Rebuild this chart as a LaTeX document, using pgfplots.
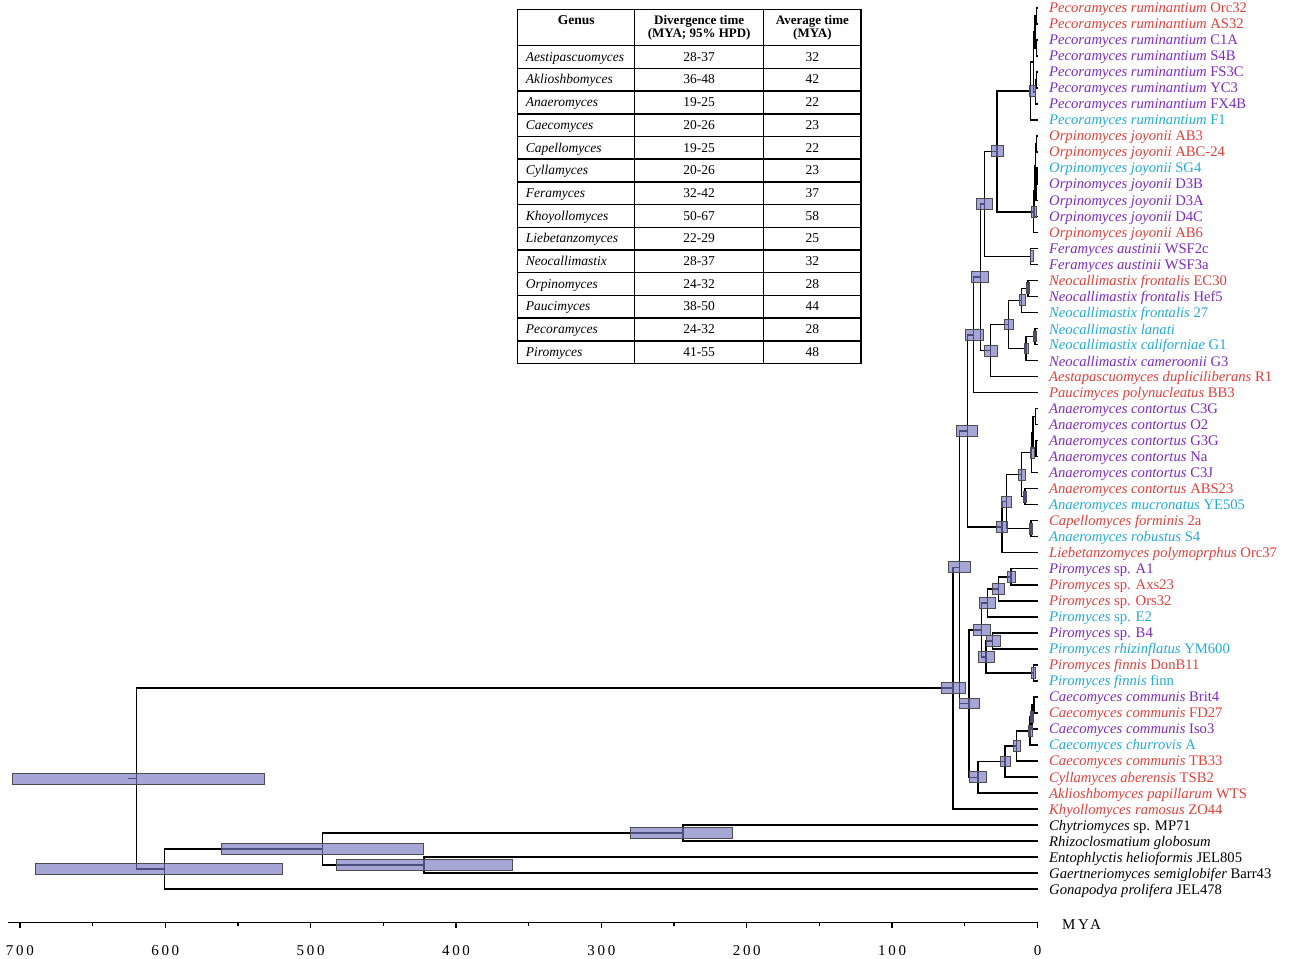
\documentclass[border=0pt]{standalone}
\usepackage{fontspec}
\setmainfont{Liberation Serif}
\usepackage{pgfplots}
\pgfplotsset{compat=1.18}
\usepackage{array}
\definecolor{cR}{RGB}{232,60,55}
\definecolor{cP}{RGB}{125,40,200}
\definecolor{cC}{RGB}{32,170,222}
\definecolor{hpdfill}{RGB}{118,118,192}
\tikzset{
  tree/.style={black, line width=1.5pt, line join=miter},
  hpd/.style={fill=hpdfill, fill opacity=0.65, draw=black!70, line width=0.9pt},
  leaf/.style={anchor=west, inner sep=0pt, xshift=11.5pt, yshift=-1.5pt, font=\fontsize{14.65}{16}\selectfont},
}
\newcommand{\trow}[3]{\hspace*{7.5pt}\textit{#1}\rule[-6.4pt]{0pt}{21.2pt} & #2 & #3\\\hline}
\begin{document}
\begin{tikzpicture}
\begin{axis}[
  scale only axis, width=1029.2pt, height=922.5pt,
  xmin=0, xmax=708, x dir=reverse,
  ymin=-57.08, ymax=0.5,
  axis x line=bottom, axis y line=none,
  axis line style={-, line width=1.3pt},
  xtick={0,100,200,300,400,500,600,700},
  minor xtick={50,150,250,350,450,550,650},
  tick align=outside,
  major tick length=6pt, minor tick length=4pt,
  every tick/.style={black, line width=1.3pt},
  /pgf/number format/assume math mode=true,
  xticklabel style={font=\fontsize{15}{15}\selectfont\addfontfeatures{LetterSpace=18}, yshift=-13pt},
  clip=false,
]
% ---------------- tree branches ----------------
% Pecoramyces
\addplot[tree] coordinates {(0,0) (0.6,0) (0.6,-1) (0,-1)};
\addplot[tree] coordinates {(0,-2) (0.8,-2) (0.8,-3) (0,-3)};
\addplot[tree] coordinates {(0.6,-0.5) (1.8,-0.5) (1.8,-2.5) (0.8,-2.5)};
\addplot[tree] coordinates {(0,-4) (0.7,-4) (0.7,-5) (0,-5)};
\addplot[tree] coordinates {(0.7,-4.5) (1.5,-4.5) (1.5,-6) (0,-6)};
\addplot[tree] coordinates {(1.8,-1.5) (2.8,-1.5) (2.8,-5.25) (1.5,-5.25)};
\addplot[tree] coordinates {(2.8,-3.375) (4.7,-3.375) (4.7,-7) (0,-7)};
% Orpinomyces
\addplot[tree] coordinates {(0,-8) (0.6,-8) (0.6,-9) (0,-9)};
\addplot[tree] coordinates {(0,-10) (0.5,-10) (0.5,-11) (0,-11)};
\addplot[tree] coordinates {(0.5,-10.5) (1.0,-10.5) (1.0,-12) (0,-12)};
\addplot[tree] coordinates {(0.6,-8.5) (1.5,-8.5) (1.5,-11.25) (1.0,-11.25)};
\addplot[tree] coordinates {(1.5,-9.875) (2.2,-9.875) (2.2,-13) (0,-13)};
\addplot[tree] coordinates {(2.2,-11.4375) (2.9,-11.4375) (2.9,-14) (0,-14)};
\addplot[tree] coordinates {(4.7,-5.1875) (27.7,-5.1875) (27.7,-12.719) (2.9,-12.719)};
% Feramyces
\addplot[tree] coordinates {(0,-15) (4.7,-15) (4.7,-16) (0,-16)};
\addplot[tree] coordinates {(27.7,-8.953) (36.3,-8.953) (36.3,-15.5) (4.7,-15.5)};
% Neocallimastix
\addplot[tree] coordinates {(0,-17) (6.7,-17) (6.7,-18) (0,-18)};
\addplot[tree] coordinates {(6.7,-17.5) (10.9,-17.5) (10.9,-19) (0,-19)};
\addplot[tree] coordinates {(0,-20) (1.7,-20) (1.7,-21) (0,-21)};
\addplot[tree] coordinates {(1.7,-20.5) (7.9,-20.5) (7.9,-22) (0,-22)};
\addplot[tree] coordinates {(10.9,-18.25) (20.1,-18.25) (20.1,-21.25) (7.9,-21.25)};
\addplot[tree] coordinates {(20.1,-19.75) (32.2,-19.75) (32.2,-23) (0,-23)};
\addplot[tree] coordinates {(36.3,-12.227) (39.1,-12.227) (39.1,-21.375) (32.2,-21.375)};
\addplot[tree] coordinates {(39.1,-16.801) (44.2,-16.801) (44.2,-24) (0,-24)};
% Anaeromyces group
\addplot[tree] coordinates {(0,-25) (1.5,-25) (1.5,-26) (0,-26)};
\addplot[tree] coordinates {(0,-27) (1.0,-27) (1.0,-28) (0,-28)};
\addplot[tree] coordinates {(1.5,-25.5) (3.0,-25.5) (3.0,-27.5) (1.0,-27.5)};
\addplot[tree] coordinates {(3.0,-26.5) (4.0,-26.5) (4.0,-29) (0,-29)};
\addplot[tree] coordinates {(0,-30) (8.6,-30) (8.6,-31) (0,-31)};
\addplot[tree] coordinates {(4.0,-27.75) (10.9,-27.75) (10.9,-30.5) (8.6,-30.5)};
\addplot[tree] coordinates {(0,-32) (4.5,-32) (4.5,-33) (0,-33)};
\addplot[tree] coordinates {(10.9,-29.125) (21.5,-29.125) (21.5,-32.5) (4.5,-32.5)};
\addplot[tree] coordinates {(21.5,-30.8125) (24.6,-30.8125) (24.6,-34) (0,-34)};
\addplot[tree] coordinates {(44.2,-20.40) (48.3,-20.40) (48.3,-32.406) (24.6,-32.406)};
% Piromyces
\addplot[tree] coordinates {(0,-35) (18.2,-35) (18.2,-36) (0,-36)};
\addplot[tree] coordinates {(18.2,-35.5) (27.0,-35.5) (27.0,-37) (0,-37)};
\addplot[tree] coordinates {(27.0,-36.25) (34.5,-36.25) (34.5,-38) (0,-38)};
\addplot[tree] coordinates {(0,-39) (30.8,-39) (30.8,-40) (0,-40)};
\addplot[tree] coordinates {(0,-41) (2.9,-41) (2.9,-42) (0,-42)};
\addplot[tree] coordinates {(30.8,-39.5) (35.4,-39.5) (35.4,-41.5) (2.9,-41.5)};
\addplot[tree] coordinates {(34.5,-37.125) (38.4,-37.125) (38.4,-40.5) (35.4,-40.5)};
% Caecomyces group
\addplot[tree] coordinates {(0,-43) (2.3,-43) (2.3,-44) (0,-44)};
\addplot[tree] coordinates {(2.3,-43.5) (3.9,-43.5) (3.9,-45) (0,-45)};
\addplot[tree] coordinates {(3.9,-44.25) (5.0,-44.25) (5.0,-46) (0,-46)};
\addplot[tree] coordinates {(5.0,-45.125) (14.3,-45.125) (14.3,-47) (0,-47)};
\addplot[tree] coordinates {(14.3,-46.0625) (22.4,-46.0625) (22.4,-48) (0,-48)};
\addplot[tree] coordinates {(22.4,-47.031) (41.1,-47.031) (41.1,-49) (0,-49)};
\addplot[tree] coordinates {(38.4,-38.8125) (47.1,-38.8125) (47.1,-48.016) (41.1,-48.016)};
\addplot[tree] coordinates {(48.3,-26.403) (53.8,-26.403) (53.8,-43.414) (47.1,-43.414)};
\addplot[tree] coordinates {(53.8,-34.909) (58.0,-34.909) (58.0,-50) (0,-50)};
% outgroups
\addplot[tree] coordinates {(0,-51) (243.7,-51) (243.7,-52) (0,-52)};
\addplot[tree] coordinates {(0,-53) (422,-53) (422,-54) (0,-54)};
\addplot[tree] coordinates {(243.7,-51.5) (491.7,-51.5) (491.7,-53.5) (422,-53.5)};
\addplot[tree] coordinates {(491.7,-52.5) (600.7,-52.5) (600.7,-55) (0,-55)};
\addplot[tree] coordinates {(58.0,-42.454) (619.7,-42.454) (619.7,-53.75) (600.7,-53.75)};
\addplot[tree] coordinates {(619.7,-48.102) (625.5,-48.102)};
% ---------------- 95% HPD bars ----------------
\addplot[hpd] coordinates {(531.5,-47.76) (705.0,-47.76) (705.0,-48.44) (531.5,-48.44)} -- cycle;
\addplot[hpd] coordinates {(519.5,-53.41) (689.2,-53.41) (689.2,-54.09) (519.5,-54.09)} -- cycle;
\addplot[hpd] coordinates {(422.5,-52.16) (561.7,-52.16) (561.7,-52.84) (422.5,-52.84)} -- cycle;
\addplot[hpd] coordinates {(361.3,-53.16) (482.1,-53.16) (482.1,-53.84) (361.3,-53.84)} -- cycle;
\addplot[hpd] coordinates {(209.7,-51.16) (279.9,-51.16) (279.9,-51.84) (209.7,-51.84)} -- cycle;
\addplot[hpd] coordinates {(49.4,-42.11) (65.9,-42.11) (65.9,-42.79) (49.4,-42.79)} -- cycle;
\addplot[hpd] coordinates {(46.0,-34.57) (61.4,-34.57) (61.4,-35.25) (46.0,-35.25)} -- cycle;
\addplot[hpd] coordinates {(41.1,-26.06) (55.6,-26.06) (55.6,-26.74) (41.1,-26.74)} -- cycle;
\addplot[hpd] coordinates {(37.3,-20.06) (49.9,-20.06) (49.9,-20.74) (37.3,-20.74)} -- cycle;
\addplot[hpd] coordinates {(33.8,-16.46) (45.3,-16.46) (45.3,-17.14) (33.8,-17.14)} -- cycle;
\addplot[hpd] coordinates {(30.8,-11.89) (41.8,-11.89) (41.8,-12.57) (30.8,-12.57)} -- cycle;
\addplot[hpd] coordinates {(23.5,-8.61) (31.5,-8.61) (31.5,-9.29) (23.5,-9.29)} -- cycle;
\addplot[hpd] coordinates {(27.4,-21.04) (36.6,-21.04) (36.6,-21.72) (27.4,-21.72)} -- cycle;
\addplot[hpd] coordinates {(16.6,-19.41) (22.8,-19.41) (22.8,-20.09) (16.6,-20.09)} -- cycle;
\addplot[hpd] coordinates {(8.6,-17.91) (12.7,-17.91) (12.7,-18.59) (8.6,-18.59)} -- cycle;
\addplot[hpd] coordinates {(5.6,-17.16) (7.9,-17.16) (7.9,-17.84) (5.6,-17.84)} -- cycle;
\addplot[hpd] coordinates {(6.3,-20.91) (9.3,-20.91) (9.3,-21.59) (6.3,-21.59)} -- cycle;
\addplot[hpd] coordinates {(0.6,-20.16) (2.9,-20.16) (2.9,-20.84) (0.6,-20.84)} -- cycle;
\addplot[hpd] coordinates {(1.7,-4.85) (5.6,-4.85) (5.6,-5.53) (1.7,-5.53)} -- cycle;
\addplot[hpd] coordinates {(0.6,-12.38) (4.0,-12.38) (4.0,-13.06) (0.6,-13.06)} -- cycle;
\addplot[hpd] coordinates {(2.9,-15.16) (5.2,-15.16) (5.2,-15.84) (2.9,-15.84)} -- cycle;
\addplot[hpd] coordinates {(20.8,-32.07) (28.5,-32.07) (28.5,-32.75) (20.8,-32.75)} -- cycle;
\addplot[hpd] coordinates {(17.7,-30.47) (25.1,-30.47) (25.1,-31.15) (17.7,-31.15)} -- cycle;
\addplot[hpd] coordinates {(8.6,-28.79) (13.2,-28.79) (13.2,-29.47) (8.6,-29.47)} -- cycle;
\addplot[hpd] coordinates {(7.4,-30.16) (9.8,-30.16) (9.8,-30.84) (7.4,-30.84)} -- cycle;
\addplot[hpd] coordinates {(2.4,-27.41) (4.7,-27.41) (4.7,-28.09) (2.4,-28.09)} -- cycle;
\addplot[hpd] coordinates {(3.3,-32.16) (5.6,-32.16) (5.6,-32.84) (3.3,-32.84)} -- cycle;
\addplot[hpd] coordinates {(40.2,-43.07) (54.0,-43.07) (54.0,-43.75) (40.2,-43.75)} -- cycle;
\addplot[hpd] coordinates {(32.7,-38.47) (44.2,-38.47) (44.2,-39.15) (32.7,-39.15)} -- cycle;
\addplot[hpd] coordinates {(29.2,-36.79) (39.6,-36.79) (39.6,-37.47) (29.2,-37.47)} -- cycle;
\addplot[hpd] coordinates {(23.0,-35.91) (31.1,-35.91) (31.1,-36.59) (23.0,-36.59)} -- cycle;
\addplot[hpd] coordinates {(15.5,-35.16) (20.8,-35.16) (20.8,-35.84) (15.5,-35.84)} -- cycle;
\addplot[hpd] coordinates {(29.9,-40.16) (40.7,-40.16) (40.7,-40.84) (29.9,-40.84)} -- cycle;
\addplot[hpd] coordinates {(25.8,-39.16) (35.4,-39.16) (35.4,-39.84) (25.8,-39.84)} -- cycle;
\addplot[hpd] coordinates {(1.7,-41.16) (4.5,-41.16) (4.5,-41.84) (1.7,-41.84)} -- cycle;
\addplot[hpd] coordinates {(34.9,-47.68) (47.1,-47.68) (47.1,-48.36) (34.9,-48.36)} -- cycle;
\addplot[hpd] coordinates {(18.9,-46.69) (25.8,-46.69) (25.8,-47.37) (18.9,-47.37)} -- cycle;
\addplot[hpd] coordinates {(12.0,-45.72) (16.6,-45.72) (16.6,-46.40) (12.0,-46.40)} -- cycle;
\addplot[hpd] coordinates {(3.5,-44.79) (6.5,-44.79) (6.5,-45.47) (3.5,-45.47)} -- cycle;
\addplot[hpd] coordinates {(2.5,-43.91) (5.0,-43.91) (5.0,-44.59) (2.5,-44.59)} -- cycle;
% ---------------- leaf labels ----------------
\node[leaf, text=cR] at (axis cs:0,0) {\textit{Pecoramyces ruminantium} Orc32};
\node[leaf, text=cR] at (axis cs:0,-1) {\textit{Pecoramyces ruminantium} AS32};
\node[leaf, text=cP] at (axis cs:0,-2) {\textit{Pecoramyces ruminantium} C1A};
\node[leaf, text=cP] at (axis cs:0,-3) {\textit{Pecoramyces ruminantium} S4B};
\node[leaf, text=cP] at (axis cs:0,-4) {\textit{Pecoramyces ruminantium} FS3C};
\node[leaf, text=cP] at (axis cs:0,-5) {\textit{Pecoramyces ruminantium} YC3};
\node[leaf, text=cP] at (axis cs:0,-6) {\textit{Pecoramyces ruminantium} FX4B};
\node[leaf, text=cC] at (axis cs:0,-7) {\textit{Pecoramyces ruminantium} F1};
\node[leaf, text=cR] at (axis cs:0,-8) {\textit{Orpinomyces joyonii} AB3};
\node[leaf, text=cR] at (axis cs:0,-9) {\textit{Orpinomyces joyonii} ABC-24};
\node[leaf, text=cC] at (axis cs:0,-10) {\textit{Orpinomyces joyonii} SG4};
\node[leaf, text=cP] at (axis cs:0,-11) {\textit{Orpinomyces joyonii} D3B};
\node[leaf, text=cP] at (axis cs:0,-12) {\textit{Orpinomyces joyonii} D3A};
\node[leaf, text=cP] at (axis cs:0,-13) {\textit{Orpinomyces joyonii} D4C};
\node[leaf, text=cR] at (axis cs:0,-14) {\textit{Orpinomyces joyonii} AB6};
\node[leaf, text=cP] at (axis cs:0,-15) {\textit{Feramyces austinii} WSF2c};
\node[leaf, text=cP] at (axis cs:0,-16) {\textit{Feramyces austinii} WSF3a};
\node[leaf, text=cR] at (axis cs:0,-17) {\textit{Neocallimastix frontalis} EC30};
\node[leaf, text=cP] at (axis cs:0,-18) {\textit{Neocallimastix frontalis} Hef5};
\node[leaf, text=cC] at (axis cs:0,-19) {\textit{Neocallimastix frontalis} 27};
\node[leaf, text=cC] at (axis cs:0,-20) {\textit{Neocallimastix lanati}};
\node[leaf, text=cC] at (axis cs:0,-21) {\textit{Neocallimastix californiae} G1};
\node[leaf, text=cP] at (axis cs:0,-22) {\textit{Neocallimastix cameroonii} G3};
\node[leaf, text=cR] at (axis cs:0,-23) {\textit{Aestapascuomyces dupliciliberans} R1};
\node[leaf, text=cR] at (axis cs:0,-24) {\textit{Paucimyces polynucleatus} BB3};
\node[leaf, text=cP] at (axis cs:0,-25) {\textit{Anaeromyces contortus} C3G};
\node[leaf, text=cP] at (axis cs:0,-26) {\textit{Anaeromyces contortus} O2};
\node[leaf, text=cP] at (axis cs:0,-27) {\textit{Anaeromyces contortus} G3G};
\node[leaf, text=cP] at (axis cs:0,-28) {\textit{Anaeromyces contortus} Na};
\node[leaf, text=cP] at (axis cs:0,-29) {\textit{Anaeromyces contortus} C3J};
\node[leaf, text=cR] at (axis cs:0,-30) {\textit{Anaeromyces contortus} ABS23};
\node[leaf, text=cC] at (axis cs:0,-31) {\textit{Anaeromyces mucronatus} YE505};
\node[leaf, text=cR] at (axis cs:0,-32) {\textit{Capellomyces forminis} 2a};
\node[leaf, text=cC] at (axis cs:0,-33) {\textit{Anaeromyces robustus} S4};
\node[leaf, text=cR] at (axis cs:0,-34) {\textit{Liebetanzomyces polymoprphus} Orc37};
\node[leaf, text=cP] at (axis cs:0,-35) {\textit{Piromyces} sp. A1};
\node[leaf, text=cR] at (axis cs:0,-36) {\textit{Piromyces} sp. Axs23};
\node[leaf, text=cR] at (axis cs:0,-37) {\textit{Piromyces} sp. Ors32};
\node[leaf, text=cC] at (axis cs:0,-38) {\textit{Piromyces} sp. E2};
\node[leaf, text=cP] at (axis cs:0,-39) {\textit{Piromyces} sp. B4};
\node[leaf, text=cC] at (axis cs:0,-40) {\textit{Piromyces rhizinflatus} YM600};
\node[leaf, text=cR] at (axis cs:0,-41) {\textit{Piromyces finnis} DonB11};
\node[leaf, text=cC] at (axis cs:0,-42) {\textit{Piromyces finnis} finn};
\node[leaf, text=cP] at (axis cs:0,-43) {\textit{Caecomyces communis} Brit4};
\node[leaf, text=cR] at (axis cs:0,-44) {\textit{Caecomyces communis} FD27};
\node[leaf, text=cP] at (axis cs:0,-45) {\textit{Caecomyces communis} Iso3};
\node[leaf, text=cC] at (axis cs:0,-46) {\textit{Caecomyces churrovis} A};
\node[leaf, text=cR] at (axis cs:0,-47) {\textit{Caecomyces communis} TB33};
\node[leaf, text=cR] at (axis cs:0,-48) {\textit{Cyllamyces aberensis} TSB2};
\node[leaf, text=cR] at (axis cs:0,-49) {\textit{Aklioshbomyces papillarum} WTS};
\node[leaf, text=cR] at (axis cs:0,-50) {\textit{Khyollomyces ramosus} ZO44};
\node[leaf, text=black] at (axis cs:0,-51) {\textit{Chytriomyces} sp. MP71};
\node[leaf, text=black] at (axis cs:0,-52) {\textit{Rhizoclosmatium globosum}};
\node[leaf, text=black] at (axis cs:0,-53) {\textit{Entophlyctis helioformis} JEL805};
\node[leaf, text=black] at (axis cs:0,-54) {\textit{Gaertneriomyces semiglobifer} Barr43};
\node[leaf, text=black] at (axis cs:0,-55) {\textit{Gonapodya prolifera} JEL478};
% axis title
\node[anchor=west, inner sep=0pt, xshift=24.5pt, yshift=-2pt, font=\fontsize{15}{15}\selectfont\addfontfeatures{LetterSpace=18}] at (axis cs:0,-57.08) {MYA};
% ---------------- table ----------------
\node[anchor=north west, inner sep=0pt, outer sep=0pt] at (axis cs:358.1,-0.06) {%
\fontsize{13.5}{14}\selectfont
\setlength{\tabcolsep}{0pt}\setlength{\arrayrulewidth}{1.5pt}\renewcommand{\arraystretch}{1}%
\begin{tabular}{|>{\raggedright\arraybackslash}p{115.5pt}|>{\centering\arraybackslash}p{127.5pt}|>{\centering\arraybackslash}p{96pt}|}
\hline
\multicolumn{1}{|c|}{\rule[-20.5pt]{0pt}{34.5pt}\textbf{Genus}} &
\parbox[t]{127.5pt}{\centering\bfseries\fontsize{13}{8.5}\selectfont Divergence time\\(MYA; 95\% HPD)} &
\parbox[t]{96pt}{\centering\bfseries\fontsize{13}{8.5}\selectfont Average time\\(MYA)}\\\hline
\trow{Aestipascuomyces}{28-37}{32}
\trow{Aklioshbomyces}{36-48}{42}
\trow{Anaeromyces}{19-25}{22}
\trow{Caecomyces}{20-26}{23}
\trow{Capellomyces}{19-25}{22}
\trow{Cyllamyces}{20-26}{23}
\trow{Feramyces}{32-42}{37}
\trow{Khoyollomyces}{50-67}{58}
\trow{Liebetanzomyces}{22-29}{25}
\trow{Neocallimastix}{28-37}{32}
\trow{Orpinomyces}{24-32}{28}
\trow{Paucimyces}{38-50}{44}
\trow{Pecoramyces}{24-32}{28}
\trow{Piromyces}{41-55}{48}
\end{tabular}};
\coordinate (bbtl) at (axis cs:713.7,0.5);
\coordinate (bbbr) at (axis cs:-173.0,-59.30);
\end{axis}
\pgfresetboundingbox
\useasboundingbox (bbtl) rectangle (bbbr);
\end{tikzpicture}
\end{document}
